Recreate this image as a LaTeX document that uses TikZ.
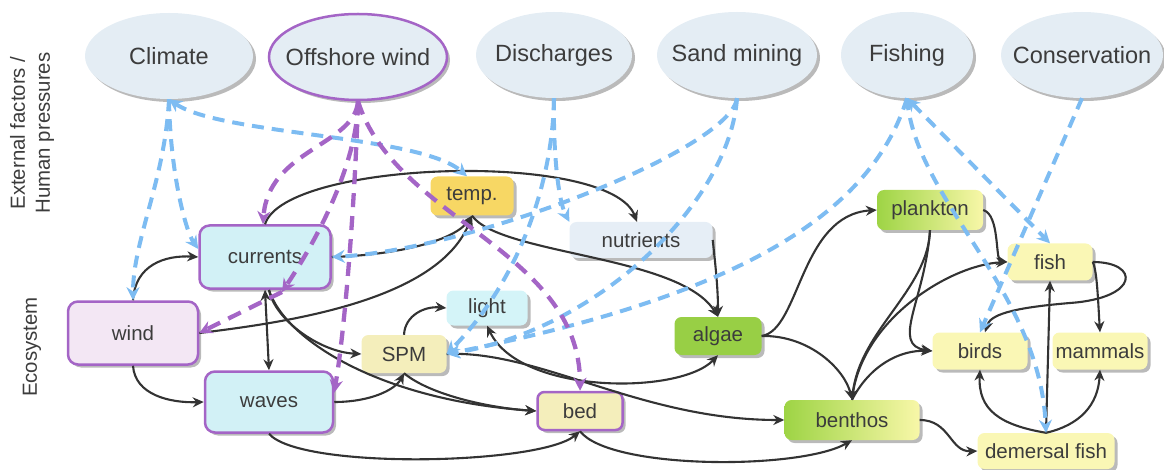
\documentclass[tikz,border=0pt]{standalone}
\usepackage{fontspec}
\setmainfont{Liberation Sans}
\usetikzlibrary{arrows.meta,shapes.geometric,shadows,calc}
\definecolor{ellfill}{HTML}{E4EDF4}
\definecolor{pur}{HTML}{A465C6}
\definecolor{blu}{HTML}{7DBCF2}
\definecolor{blk}{HTML}{333333}
\definecolor{txt}{HTML}{3C3C3C}
\definecolor{cyanfill}{HTML}{D2F1F6}
\definecolor{windfill}{HTML}{F3E7F4}
\definecolor{tempfill}{HTML}{F7D764}
\definecolor{nutrfill}{HTML}{E6EEF6}
\definecolor{lightfill}{HTML}{D4F4F8}
\definecolor{spmfill}{HTML}{F4EEBB}
\definecolor{algaefill}{HTML}{98CF45}
\definecolor{gr}{HTML}{9ED445}
\definecolor{ye}{HTML}{F8F7A8}
\definecolor{animal}{HTML}{FAF7B5}
\tikzset{
  shad/.style={drop shadow={shadow xshift=3pt,shadow yshift=-3pt,opacity=.45,fill=black!60}},
  ext/.style={ellipse, fill=ellfill, draw=none, shad, text=txt, inner sep=0pt,
    minimum height=86pt, font=\fontsize{23.5pt}{28pt}\selectfont},
  box/.style={rectangle, rounded corners=7pt, draw=none, shad, text=txt, inner sep=0pt,
    font=\fontsize{20.5pt}{24pt}\selectfont},
  pbox/.style={box, draw=pur, line width=2.5pt},
  side/.style={rotate=90, align=center, text=txt, font=\fontsize{20.4pt}{25pt}\selectfont},
  blkarrow/.style={draw=blk, line width=2.1pt, -{Stealth[length=11pt,width=10pt]}},
  blkboth/.style={draw=blk, line width=2.1pt, {Stealth[length=11pt,width=10pt]}-{Stealth[length=11pt,width=10pt]}},
  bdash/.style={draw=blu, line width=4pt, dash pattern=on 12pt off 8pt, -{Stealth[length=13pt,width=13pt]}},
  bdashboth/.style={draw=blu, line width=4pt, dash pattern=on 12pt off 8pt, {Stealth[length=13pt,width=13pt]}-{Stealth[length=13pt,width=13pt]}},
  pdash/.style={draw=pur, line width=4.3pt, dash pattern=on 14pt off 9pt, -{Stealth[length=13pt,width=13pt]}},
}
\begin{document}
\begin{tikzpicture}[x=1pt,y=-1pt]
\useasboundingbox (0,0) rectangle (1164,470);
% side labels
\node[side] (labext) at (32,133) {External factors /\\Human pressures};
\node[side] (labeco) at (32,347) {Ecosystem};
% external factors
\node[ext, minimum width=168pt] (clim) at (169,56) {\makebox[0pt]{Climate}};
\node[ext, draw=pur, line width=2.5pt, minimum width=178pt] (off) at (358,57) {\makebox[0pt]{Offshore wind}};
\node[ext, minimum width=156pt] (disch) at (554,55) {\makebox[0pt]{Discharges}};
\node[ext, minimum width=160pt] (sand) at (737,55) {\makebox[0pt]{Sand mining}};
\node[ext, minimum width=132pt] (fishing) at (907,55) {\makebox[0pt]{Fishing}};
\node[ext, minimum width=162pt] (cons) at (1082,55) {\makebox[0pt]{Conservation}};
% ecosystem
\node[pbox, fill=cyanfill, minimum width=131pt, minimum height=63pt, rounded corners=10pt] (currents) at (265,257) {currents};
\node[pbox, fill=windfill, minimum width=130pt, minimum height=63pt, rounded corners=10pt] (wind) at (133,333) {wind};
\node[pbox, fill=cyanfill, minimum width=128pt, minimum height=61pt, rounded corners=10pt] (waves) at (269,402) {waves};
\node[box, fill=tempfill, minimum width=83pt, minimum height=39pt] (temp) at (472,196) {temp.};
\node[box, fill=nutrfill, minimum width=143pt, minimum height=36pt] (nutr) at (641,240) {nutrients};
\node[box, fill=lightfill, minimum width=81pt, minimum height=35pt] (light) at (487,308) {light};
\node[box, fill=spmfill, minimum width=85pt, minimum height=38pt] (spm) at (404,354) {SPM};
\node[pbox, fill=spmfill, minimum width=85pt, minimum height=38pt] (bed) at (580,411) {bed};
\node[box, fill=algaefill, minimum width=87pt, minimum height=38pt] (algae) at (718,336) {algae};
\node[box, left color=gr, right color=ye, minimum width=135pt, minimum height=40pt] (benthos) at (852,420) {benthos};
\node[box, left color=gr, right color=ye, minimum width=106pt, minimum height=40pt] (plankton) at (930,210) {plankton};
\node[box, fill=animal, minimum width=85pt, minimum height=37pt] (fish) at (1050,262) {fish};
\node[box, fill=animal, minimum width=95pt, minimum height=37pt] (birds) at (980,351) {birds};
\node[box, fill=animal, minimum width=95pt, minimum height=37pt] (mammals) at (1100,351) {mammals};
\node[box, fill=animal, minimum width=137pt, minimum height=36pt] (dem) at (1046,451) {demersal fish};
% black connectors
\draw[blkarrow] (currents.north) .. controls (285,160) and (610,150) .. ([xshift=-4pt]nutr.north);
\draw[blkarrow] (currents.east) .. controls (400,255) and (455,240) .. (temp.south);
\draw[blkarrow] (wind.east) .. controls (290,322) and (440,300) .. (temp.south);
\draw[blkarrow] (temp.south) .. controls (500,255) and (680,255) .. (algae.north);
\draw[blkarrow] (nutr.east) .. controls (716,270) and (718,290) .. (algae.north);
\draw[blkarrow] (wind.north) .. controls (135,265) and (165,255) .. (currents.west);
\draw[blkarrow] (wind.south) .. controls (135,395) and (170,403) .. (waves.west);
\draw[blkboth] (currents.south) -- (waves.north);
\coordinate (cb) at (269,290);
\draw[blkarrow] (cb) .. controls (275,320) and (320,352) .. (spm.west);
\draw[blkarrow] (cb) .. controls (285,340) and (380,400) .. (bed.west);
\draw[blkarrow] (spm.south) .. controls (430,395) and (490,408) .. (bed.west);
\draw[blkarrow] (waves.east) .. controls (370,402) and (395,390) .. (spm.south);
\draw[blkarrow] (waves.south) .. controls (300,470) and (540,465) .. (bed.south);
\draw[blkarrow] (spm.north) .. controls (405,315) and (425,306) .. (light.west);
\draw[blkboth] (light.south) .. controls (520,395) and (680,395) .. (algae.south);
\draw[blkarrow] (spm.east) .. controls (540,350) and (640,420) .. (benthos.west);
\draw[blkarrow] (bed.south) .. controls (610,470) and (800,470) .. (benthos.south);
\draw[blkarrow] (algae.east) .. controls (800,330) and (800,215) .. (plankton.west);
\draw[blkarrow] (algae.east) .. controls (810,335) and (845,370) .. (benthos.north);
\draw[blkarrow] (plankton.east) .. controls (1000,215) and (995,260) .. (fish.west);
\draw[blkarrow] (plankton.south) .. controls (928,290) and (860,330) .. (benthos.north);
\draw[blkarrow] (plankton.south) .. controls (925,300) and (890,345) .. (birds.west);
\draw[blkarrow] (benthos.north) .. controls (860,320) and (950,265) .. (fish.west);
\draw[blkarrow] (benthos.north) .. controls (870,365) and (900,350) .. (birds.west);
\draw[blkarrow] (fish.east) .. controls (1097,270) and (1098,300) .. (mammals.north);
\draw[blkarrow] (fish.east) .. controls (1140,262) and (1140,298) .. (1070,303) .. controls (1010,308) and (990,315) .. ([xshift=5pt]birds.north);
\draw[blkarrow] (dem.north) -- (fish.south);
\draw[blkarrow] (dem.north) .. controls (1000,425) and (978,410) .. (birds.south);
\draw[blkarrow] (dem.north) .. controls (1080,425) and (1098,405) .. (mammals.south);
\draw[blkarrow] (benthos.east) .. controls (950,420) and (950,452) .. (dem.west);
% blue dashed connectors
\draw[bdash] (clim.south) .. controls (165,180) and (133,240) .. (wind.north);
\draw[bdash] (clim.south) .. controls (170,170) and (185,230) .. ($(currents.west)+(0,-8)$);
\draw[bdashboth] (clim.south) .. controls (220,135) and (420,135) .. ([xshift=-5pt]temp.north);
\draw[bdash] (disch.south) .. controls (553,150) and (558,200) .. (nutr.north west);
\draw[bdash] (disch.south) .. controls (553,180) and (520,280) .. (spm.east);
\draw[bdash] (sand.south) .. controls (730,150) and (470,250) .. (currents.east);
\draw[bdash] (sand.south) .. controls (730,200) and (600,330) .. (spm.east);
\draw[bdash] (fishing.south) .. controls (865,235) and (690,305) .. (spm.east);
\draw[bdash] (fishing.south) .. controls (915,200) and (1040,290) .. (dem.north);
\draw[bdashboth] (fishing.south) -- (fish.north);
\draw[bdash] (cons.south) -- (birds.north);
% purple dashed connectors
\draw[pdash] (off.south) .. controls (355,145) and (268,150) .. ([xshift=-2pt]currents.north);
\coordinate (cbr) at (282,292);
\draw[pdash] (off.south) .. controls (358,150) and (330,220) .. (cbr);
\draw[pdash] (cbr) -- (wind.east);
\coordinate (wv) at (334,393);
\draw[pdash] (off.south) .. controls (355,200) and (345,330) .. (wv);
\draw[pdash] (off.south) .. controls (395,220) and (580,250) .. (bed.north);
\end{tikzpicture}
\end{document}
